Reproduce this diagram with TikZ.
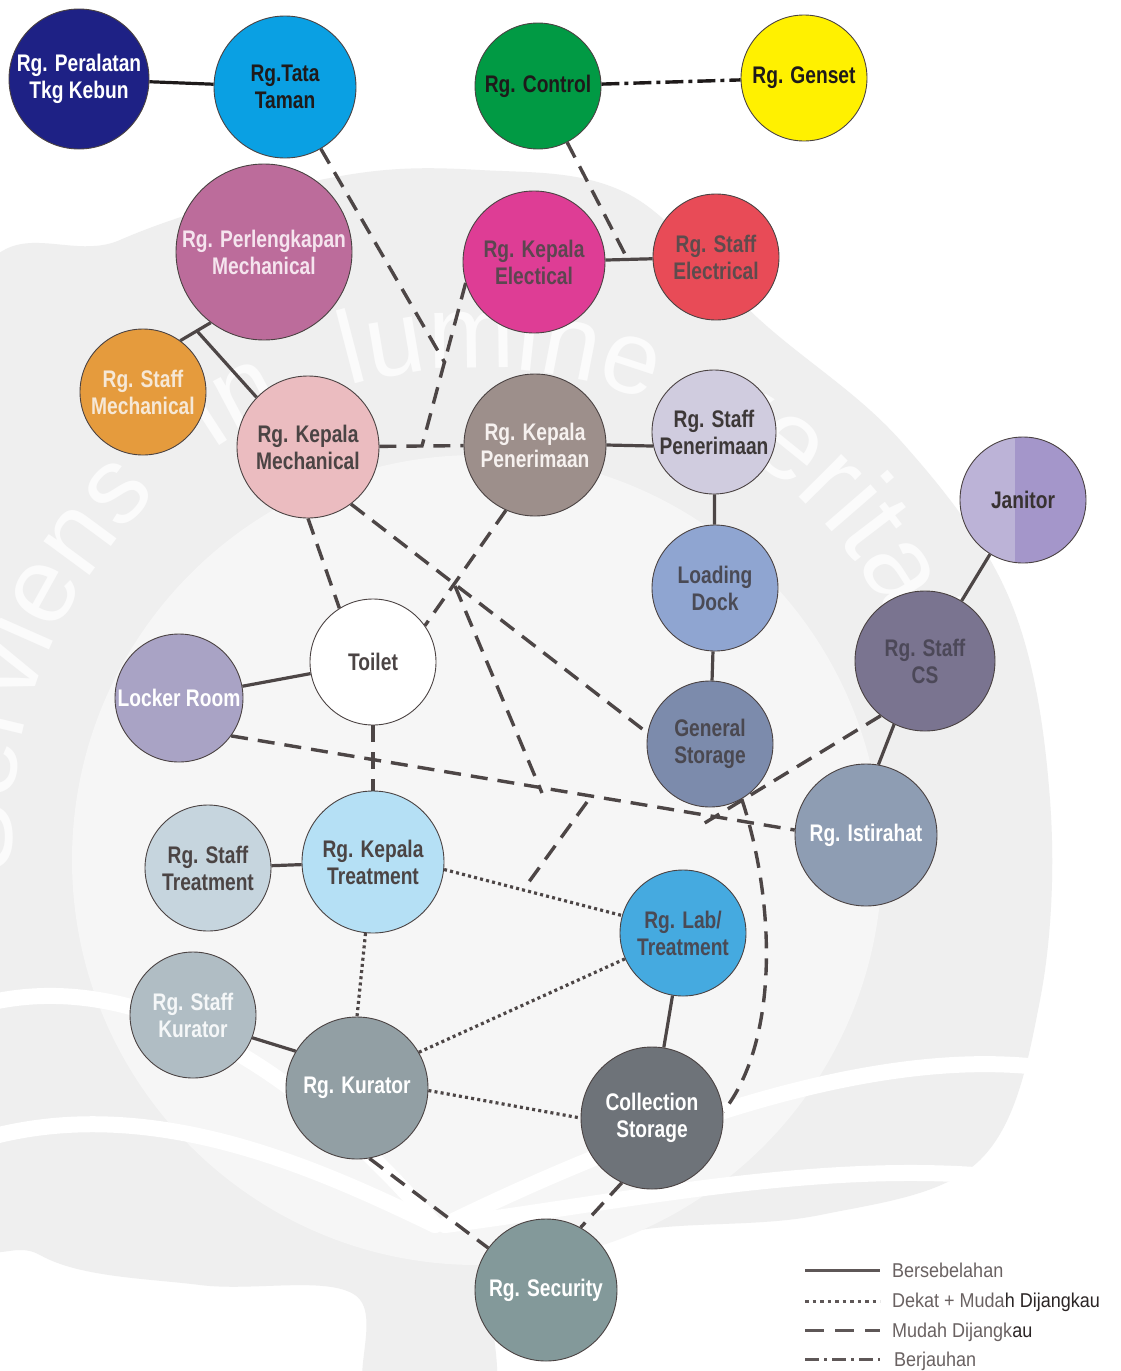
\documentclass[tikz,border=0pt]{standalone}
\usepackage{fontspec}
\setmainfont{Liberation Sans}
\newfontfamily\nf[FakeStretch=0.8]{Liberation Sans}
\newfontfamily\lf[FakeStretch=0.9]{Liberation Sans}
\newfontfamily\wf{Liberation Sans}
\usetikzlibrary{decorations.text}
\pgfdeclarelayer{wmlayer}
\pgfdeclarelayer{edgelayer}
\pgfsetlayers{wmlayer,edgelayer,main}
\definecolor{edgec}{HTML}{4D4646}
\definecolor{blk}{HTML}{1E1A1A}
\definecolor{bordc}{HTML}{4A4242}
\definecolor{wmgray}{HTML}{EFEFEF}
\definecolor{wminner}{HTML}{F6F6F6}
\definecolor{wmtext}{HTML}{FBFBFB}
\definecolor{legc}{HTML}{5E5757}
\definecolor{legtxt}{HTML}{6A6262}
\definecolor{legdark}{HTML}{2B2525}
\definecolor{dtxt}{HTML}{4B4444}
\definecolor{cPTK}{HTML}{1E2185}
\definecolor{cTT}{HTML}{0AA0E3}
\definecolor{cCTRL}{HTML}{019A44}
\definecolor{cGEN}{HTML}{FFF100}
\definecolor{cPM}{HTML}{BC6C9B}
\definecolor{cKE}{HTML}{DE3D95}
\definecolor{cSE}{HTML}{E84B57}
\definecolor{cSM}{HTML}{E59B3D}
\definecolor{cKM}{HTML}{EBBCC0}
\definecolor{cKP}{HTML}{9D8F8B}
\definecolor{cSP}{HTML}{D0CCDF}
\definecolor{cJL}{HTML}{BCB3D7}
\definecolor{cJR}{HTML}{A496CA}
\definecolor{cLD}{HTML}{8FA5D1}
\definecolor{cSCS}{HTML}{7A7490}
\definecolor{cLR}{HTML}{A9A3C5}
\definecolor{cGS}{HTML}{7C8BAC}
\definecolor{cIST}{HTML}{8E9DB3}
\definecolor{cST}{HTML}{C6D5DE}
\definecolor{cKT}{HTML}{B5E0F5}
\definecolor{cLAB}{HTML}{45AAE0}
\definecolor{cSK}{HTML}{B0BDC4}
\definecolor{cKUR}{HTML}{929FA4}
\definecolor{cCS}{HTML}{6E7379}
\definecolor{cSEC}{HTML}{83999A}
\begin{document}
\begin{tikzpicture}[x=1pt,y=-1pt,
  room/.style={circle, draw=bordc, line width=0.9pt, inner sep=0pt,
    align=center, minimum size=#1,
    font=\nf\bfseries\fontsize{24}{27}\selectfont},
  sol/.style={draw=edgec, line width=3.2pt},
  dsh/.style={draw=edgec, line width=3.4pt, dash pattern=on 17pt off 10pt},
  dts/.style={draw=edgec, line width=3.2pt, dash pattern=on 3pt off 3.2pt},
  ddt/.style={draw=edgec, line width=3.4pt, dash pattern=on 18pt off 5pt on 4pt off 5pt},
  legtext/.style={anchor=base west, inner sep=0pt, text=legtxt,
    font=\lf\fontsize{20}{22}\selectfont},
  swoosh/.style={draw=white, line width=16pt, line cap=round},
  wmword/.style 2 args={decorate, decoration={text along path, text align=left,
    text={|\wf\fontsize{#1}{#1}\selectfont\color{wmtext}|#2}}}
]
\useasboundingbox (0,0) rectangle (1120,1371);

% ---------- watermark ----------
\begin{pgfonlayer}{wmlayer}
\fill[white] (0,0) rectangle (1120,1371);
\begin{scope}
\clip (0,0) rectangle (1120,1371);
\fill[wmgray] plot[smooth cycle, tension=0.6] coordinates {
  (-40,340) (120,240) (330,178) (480,170) (630,195) (760,320) (900,440)
  (1010,600) (1050,800) (1040,1000) (980,1160) (820,1215) (640,1230)
  (500,1265) (490,1400) (370,1400) (355,1295) (200,1285) (40,1255) (-40,1150)};
\fill[wminner] (477,860) circle [radius=405];
\draw[swoosh] (-20,1005) .. controls (150,960) and (320,1090) .. (435,1225);
\draw[swoosh] (-20,1140) .. controls (150,1090) and (320,1170) .. (435,1225);
\draw[swoosh] (1060,1070) .. controls (880,1040) and (640,1130) .. (445,1225);
\draw[swoosh] (1060,1185) .. controls (860,1150) and (640,1200) .. (445,1225);
\coordinate (wmc) at (477,833);
\path[wmword={108}{Serviens}] (wmc) ++(175:465) arc[start angle=175, end angle=240, radius=465];
\path[wmword={108}{in}] (wmc) ++(235.5:465) arc[start angle=235.5, end angle=260, radius=465];
\path[wmword={104}{lumine}] (wmc) ++(254:465) arc[start angle=254, end angle=300, radius=465];
\path[wmword={114}{veritatis}] (wmc) ++(298:465) arc[start angle=298, end angle=365, radius=465];
\end{scope}
\end{pgfonlayer}

% ---------- rooms ----------
\node[room=140pt, fill=cPTK, text=white] (PTK) at (79,79) {Rg. Peralatan\\Tkg Kebun};
\node[room=142pt, fill=cTT, text=blk] (TT) at (285,87) {Rg.Tata\\Taman};
\node[room=126pt, fill=cCTRL, text=blk] (CTRL) at (538,86) {Rg. Control};
\node[room=126pt, fill=cGEN, text=blk] (GEN) at (804,78) {Rg. Genset};
\node[room=176pt, fill=cPM, text={rgb,255:red,245;green,228;blue,238}] (PM) at (264,252) {Rg. Perlengkapan\\Mechanical};
\node[room=142pt, fill=cKE, text={rgb,255:red,92;green,70;blue,80}] (KE) at (534,262) {Rg. Kepala\\Electical};
\node[room=126pt, fill=cSE, text={rgb,255:red,94;green,75;blue,77}] (SE) at (716,257) {Rg. Staff\\Electrical};
\node[room=126pt, fill=cSM, text={rgb,255:red,246;green,232;blue,214}] (SM) at (143,392) {Rg. Staff\\Mechanical};
\node[room=142pt, fill=cKM, text=dtxt] (KM) at (308,447) {Rg. Kepala\\Mechanical};
\node[room=142pt, fill=cKP, text={rgb,255:red,246;green,241;blue,239}] (KP) at (535,445) {Rg. Kepala\\Penerimaan};
\node[room=124pt, fill=cSP, text={rgb,255:red,61;green,56;blue,56}] (SP) at (714,432) {Rg. Staff\\Penerimaan};
\node[room=126pt, fill=cJL, text={rgb,255:red,56;green,50;blue,50},
  path picture={\fill[cJR] ([xshift=-8pt]path picture bounding box.south) rectangle (path picture bounding box.north east);}] (JAN) at (1023,500) {Janitor};
\node[room=126pt, fill=cLD, text={rgb,255:red,74;green,74;blue,85}] (LD) at (715,588) {Loading\\Dock};
\node[room=140pt, fill=cSCS, text={rgb,255:red,76;green,72;blue,88}] (SCS) at (925,661) {Rg. Staff\\CS};
\node[room=126pt, fill=white, text=dtxt] (TOI) at (373,662) {Toilet};
\node[room=128pt, fill=cLR, text=white] (LR) at (179,698) {Locker Room};
\node[room=126pt, fill=cGS, text={rgb,255:red,74;green,72;blue,80}] (GS) at (710,744) {General\\Storage};
\node[room=142pt, fill=cIST, text=white] (IST) at (866,835) {Rg. Istirahat};
\node[room=126pt, fill=cST, text=dtxt] (ST) at (208,868) {Rg. Staff\\Treatment};
\node[room=142pt, fill=cKT, text=dtxt] (KT) at (373,862) {Rg. Kepala\\Treatment};
\node[room=126pt, fill=cLAB, text={rgb,255:red,74;green,74;blue,85}] (LAB) at (683,933) {Rg. Lab/\\Treatment};
\node[room=126pt, fill=cSK, text={rgb,255:red,245;green,247;blue,248}] (SK) at (193,1015) {Rg. Staff\\Kurator};
\node[room=142pt, fill=cKUR, text=white] (KUR) at (357,1088) {Rg. Kurator};
\node[room=142pt, fill=cCS, text=white] (CS) at (652,1118) {Collection\\Storage};
\node[room=142pt, fill=cSEC, text=white] (SEC) at (546,1290) {Rg. Security};

% ---------- junction points ----------
\coordinate (jA) at (422,446);
\coordinate (jB) at (445,363);
\coordinate (jC) at (628,260);
\coordinate (jD) at (197,331);
\coordinate (jE) at (455,586);
\coordinate (jF) at (542,793);
\coordinate (jG) at (703,824);
\coordinate (jH1) at (587,802);
\coordinate (jH2) at (523,890);

% ---------- connectors ----------
\begin{pgfonlayer}{edgelayer}
% Bersebelahan
\draw[sol, draw=blk] (PTK) -- (TT);
\draw[sol] (KE) -- (SE);
\draw[sol] (PM.233) -- (SM.54);
\draw[sol] (KM.136) -- (jD);
\draw[sol] (KP.east) -- (SP.193);
\draw[sol] (SP) -- (LD);
\draw[sol] (LD) -- (GS);
\draw[sol] (JAN) -- (SCS);
\draw[sol] (SCS.244) -- (IST.80);
\draw[sol] (LR) -- (TOI);
\draw[sol] (ST) -- (KT);
\draw[sol] (SK.-21) -- (KUR.149);
\draw[sol] (LAB) -- (CS);
% Berjauhan
\draw[ddt, draw=blk] (CTRL) -- (GEN);
% Mudah Dijangkau
\draw[dsh] (CTRL) -- (jC);
\draw[dsh] (TT) -- (jB);
\draw[dsh] (KE.197) -- (jA);
\draw[dsh] (KM) -- (KP);
\draw[dsh] (KM.south) -- (TOI.122);
\draw[dsh] (KM.-53) -- (GS.170);
\draw[dsh] (KP.246) -- (TOI.35);
\draw[dsh] (jE) -- (jF);
\draw[dsh] (TOI) -- (KT);
\draw[dsh] (LR.-36) -- (IST.176);
\draw[dsh] (SCS.231) -- (jG);
\draw[dsh] (GS.-60) .. controls (775,900) and (780,1040) .. (CS.5);
\draw[dsh] (jH1) -- (jH2);
\draw[dsh] (KUR.-80) -- (SEC.144);
\draw[dsh] (CS.245) -- (SEC.61);
% Dekat + Mudah Dijangkau
\draw[dts] (KT.-6) -- (LAB.164);
\draw[dts] (KT.-96) -- (KUR.north);
\draw[dts] (KUR.30) -- (LAB.204);
\draw[dts] (KUR.-2) -- (CS.180);
\end{pgfonlayer}

% ---------- legend ----------
\coordinate (l1a) at (805,1270); \coordinate (l1b) at (880,1270);
\coordinate (l2a) at (805,1301); \coordinate (l2b) at (880,1301);
\coordinate (l3a) at (805,1330); \coordinate (l3b) at (880,1330);
\coordinate (l4a) at (805,1359); \coordinate (l4b) at (880,1359);
\draw[draw=legc, line width=3pt] (l1a) -- (l1b);
\draw[draw=legc, line width=3pt, dash pattern=on 3.5pt off 4pt] (l2a) -- (l2b);
\draw[draw=legc, line width=3pt, dash pattern=on 19pt off 11pt] (l3a) -- (l3b);
\draw[draw=legc, line width=3pt, dash pattern=on 14pt off 5pt on 3pt off 5pt] (l4a) -- (l4b);
\begin{scope}
\clip (780,1240) rectangle (1101,1371);
\node[legtext] (lt1) at (892,1277) {Bersebelahan};
\node[legtext] (lt2) at (892,1307) {Dekat + Muda\textcolor{legdark}{h Dijangkau}};
\node[legtext] (lt3) at (892,1337) {Mudah Dijangk\textcolor{legdark}{au}};
\node[legtext] (lt4) at (894,1366) {Berjauhan};
\end{scope}
\end{tikzpicture}
\end{document}
